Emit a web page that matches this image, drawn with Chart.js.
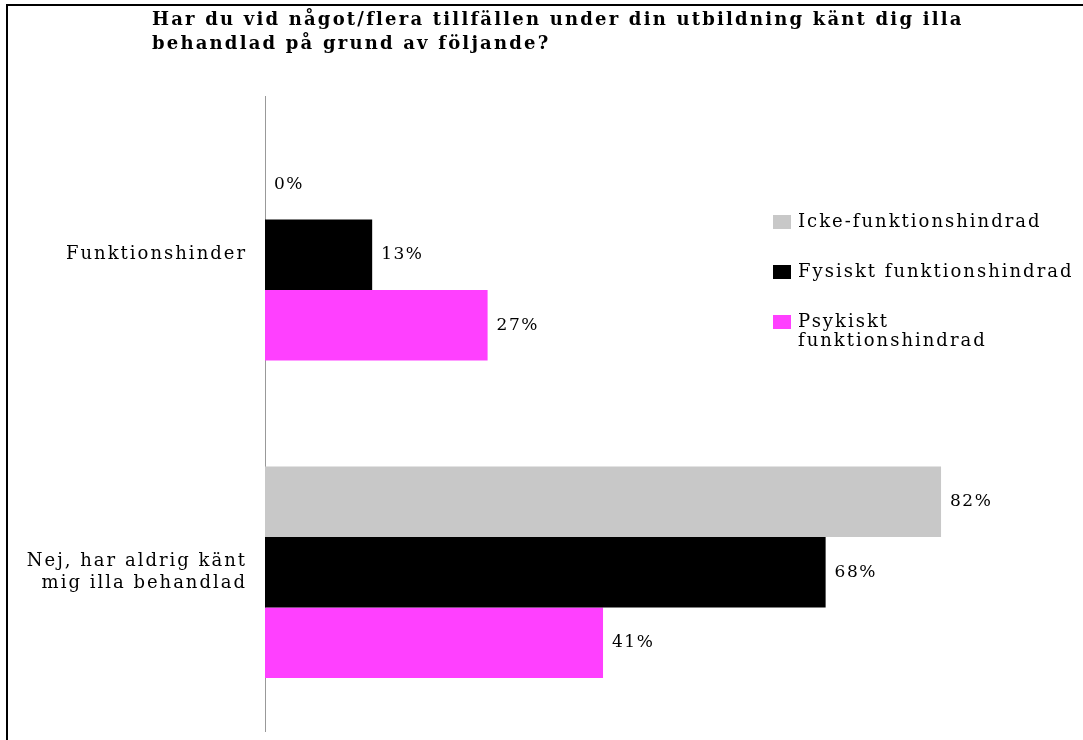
<!DOCTYPE html>
<html>
<head>
<meta charset="utf-8">
<script src="https://cdn.jsdelivr.net/npm/chart.js@4"></script>
<style>
  html, body { margin: 0; padding: 0; background: #fff; }
  #wrap { position: relative; width: 1083px; height: 740px; }
  #frame { position: absolute; left: 6px; top: 4px; right: 0; bottom: 0;
           border-left: 2px solid #000; border-top: 2px solid #000; pointer-events: none; }
  canvas { position: absolute; left: 0; top: 0; }
</style>
</head>
<body>
<div id="wrap">
  <canvas id="graph" width="1083" height="740"></canvas>
  <div id="frame"></div>
</div>
<script>
const titleLines = ['Har du vid något/flera tillfällen under din utbildning känt dig illa', 'behandlad på grund av följande?'];
const categories = ['Funktionshinder', ['Nej, har aldrig känt', 'mig illa behandlad']];
const seriesNames = ['Icke-funktionshindrad', 'Fysiskt funktionshindrad', 'Psykiskt funktionshindrad'];
const legendLines = [['Icke-funktionshindrad'], ['Fysiskt funktionshindrad'], ['Psykiskt', 'funktionshindrad']];
const icke = [0, 82];
const fysiskt = [13, 68];
const psykiskt = [27, 41];
const colors = ['#c8c8c8', '#000000', '#ff40ff'];

const serif = 'DejaVu Serif';
const spacing = '2px';

// wide letterspacing like the original Century font
const spacingPlugin = {
  id: 'spacing',
  beforeDraw(chart) {
    chart.ctx.letterSpacing = spacing;
  }
};

// title, left aligned at a fixed indent
const titlePlugin = {
  id: 'titleText',
  afterDraw(chart) {
    const ctx = chart.ctx;
    ctx.save();
    ctx.letterSpacing = '2.2px';
    ctx.font = 'bold 18px "' + serif + '"';
    ctx.fillStyle = '#000';
    ctx.textAlign = 'left';
    ctx.textBaseline = 'alphabetic';
    titleLines.forEach((t, i) => ctx.fillText(t, 152, 25 + i * 24));
    ctx.restore();
  }
};

// value labels after each bar
const valueLabels = {
  id: 'valueLabels',
  afterDatasetsDraw(chart) {
    const ctx = chart.ctx;
    ctx.save();
    ctx.letterSpacing = '1.5px';
    ctx.font = '17px "' + serif + '"';
    ctx.fillStyle = '#000';
    ctx.textBaseline = 'middle';
    ctx.textAlign = 'left';
    chart.data.datasets.forEach((ds, i) => {
      chart.getDatasetMeta(i).data.forEach((bar, j) => {
        ctx.fillText(ds.data[j] + '%', bar.x + 9, bar.y);
      });
    });
    ctx.restore();
  }
};

// legend on the right, with wrapped label
const sideLegend = {
  id: 'sideLegend',
  afterDraw(chart) {
    const ctx = chart.ctx;
    ctx.save();
    ctx.letterSpacing = spacing;
    ctx.font = '18px "' + serif + '"';
    ctx.textBaseline = 'middle';
    ctx.textAlign = 'left';
    let y = 222;
    legendLines.forEach((lines, i) => {
      ctx.fillStyle = colors[i];
      ctx.fillRect(773, y - 7, 18, 14);
      ctx.fillStyle = '#000';
      lines.forEach((t, k) => ctx.fillText(t, 798, y + k * 19));
      y += 50;
    });
    ctx.restore();
  }
};

new Chart(document.getElementById('graph'), {
  type: 'bar',
  data: {
    labels: categories,
    datasets: [
      { label: seriesNames[0], data: icke, backgroundColor: colors[0] },
      { label: seriesNames[1], data: fysiskt, backgroundColor: colors[1] },
      { label: seriesNames[2], data: psykiskt, backgroundColor: colors[2] }
    ]
  },
  options: {
    indexAxis: 'y',
    responsive: false,
    animation: false,
    categoryPercentage: 0.666,
    barPercentage: 1.0,
    layout: { padding: { left: 0, right: 76, top: 96, bottom: 9 } },
    scales: {
      x: { display: false, min: 0, max: 90 },
      y: {
        grid: { display: false },
        border: { display: true, color: '#999', width: 1 },
        ticks: {
          color: '#000',
          padding: 10,
          font: { family: serif, size: 18, lineHeight: 1.25 }
        },
        afterFit(scale) {
          scale.width = 265;
          scale.paddingTop = 0;
          scale.paddingBottom = 0;
        }
      }
    },
    plugins: {
      legend: { display: false },
      tooltip: { enabled: false },
      title: { display: false }
    }
  },
  plugins: [spacingPlugin, valueLabels, sideLegend, titlePlugin]
});
</script>
</body>
</html>
